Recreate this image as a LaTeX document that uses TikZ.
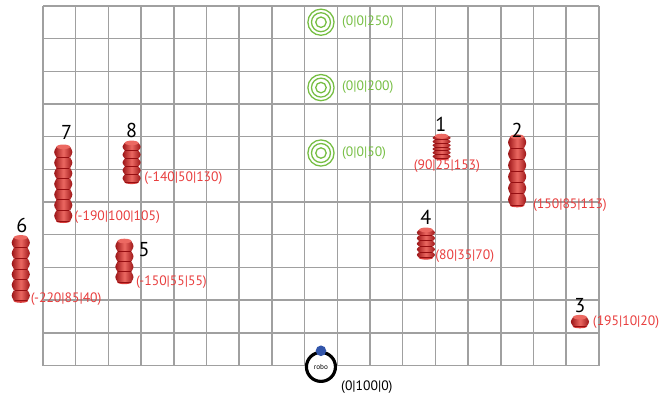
\documentclass[tikz,border=0pt]{standalone}
\usepackage{fontspec}
\setmainfont{PT Sans}
\usetikzlibrary{positioning}

\definecolor{gridgray}{RGB}{160,160,160}
\definecolor{goalgreen}{RGB}{118,190,67}
\definecolor{obsred}{RGB}{232,62,62}
\definecolor{pilldark}{RGB}{150,15,18}
\definecolor{pillred}{RGB}{215,60,58}
\definecolor{pilllight}{RGB}{236,105,98}
\definecolor{robblue}{RGB}{50,85,170}

% stacked obstacle: x, bottom, top, number of rings
\newcommand{\pillar}[4]{%
  \pgfmathsetmacro{\pseg}{(#3-#2)/#4}
  \fill[pillred] (#1,#2) ellipse (0.22 and 0.06);
  \foreach \k in {1,...,#4}{
    \pgfmathsetmacro{\pya}{#2+(\k-1)*\pseg}
    \pgfmathsetmacro{\pyb}{\pya+\pseg}
    \pgfmathsetmacro{\pym}{\pya+0.5*\pseg}
    \shade[left color=pilldark, right color=pilldark, middle color=pilllight]
      (#1-0.21,\pya) .. controls (#1-0.30,\pym) .. (#1-0.21,\pyb)
      -- (#1+0.21,\pyb) .. controls (#1+0.30,\pym) .. (#1+0.21,\pya) -- cycle;
    \draw[pilldark, line width=0.7pt] (#1-0.19,\pya) -- (#1+0.19,\pya);
  }
  \fill[pilllight] (#1,#3) ellipse (0.21 and 0.07);
}

\begin{document}
\begin{tikzpicture}
	[scale=0.8,
	num/.style={font=\fontsize{14}{14}\selectfont, inner sep=0pt},
	coordlabel/.style={text=obsred, font=\fontsize{9.5}{10}\selectfont, inner sep=0pt, anchor=west},
	goallabel/.style={coordlabel, text=goalgreen},
	ring/.style={draw=goalgreen, line width=0.9pt},
	robot/.style={shape=circle, draw=black, line width=2.2pt, fill=white, minimum size=0.71cm, inner sep=0pt, font=\fontsize{5}{5}\selectfont}]
	\useasboundingbox (-1.315,-1.043) rectangle (18.838,11.18);
	
	\draw[gridgray, line width=1pt] (0,0) grid (17,11);
	
	% targets
	\foreach \gy/\gz [count=\i] in {10.5/250, 8.5/200, 6.5/50} {
		\coordinate (goal\i) at (8.5,\gy);
		\foreach \r in {0.40,0.29,0.16}
			\draw[ring] (goal\i) circle (\r);
		\node[goallabel] (goallabel\i) at (9.14,\gy) {(0|0|\gz)};
	}
	
	% obstacles
	\pillar{12.19}{6.34}{7.02}{6}
	\pillar{14.5}{4.9}{7.0}{6}
	\pillar{16.42}{1.2}{1.48}{1}
	\pillar{11.71}{3.3}{4.15}{5}
	\pillar{2.49}{2.55}{3.81}{4}
	\pillar{-0.68}{1.98}{3.92}{6}
	\pillar{0.62}{4.42}{6.69}{7}
	\pillar{2.71}{5.61}{6.81}{5}
	
	\node [num] (n1) at (12.17,7.37) {1};
	\node [num] (n2) at (14.5,7.2) {2};
	\node [num] (n3) at (16.42,1.83) {3};
	\node [num] (n4) at (11.71,4.54) {4};
	\node [num] (n5) at (3.09,3.56) {5};
	\node [num] (n6) at (-0.65,4.29) {6};
	\node [num] (n7) at (0.72,7.12) {7};
	\node [num] (n8) at (2.71,7.2) {8};
	
	\node [coordlabel, anchor=center] (c1) at (12.35,6.09) {(90|25|153)};
	\node [coordlabel] (c2) at (14.98,4.91) {(150|85|113)};
	\node [coordlabel] (c3) at (16.81,1.34) {(195|10|20)};
	\node [coordlabel] (c4) at (11.99,3.36) {(80|35|70)};
	\node [coordlabel] (c5) at (2.84,2.56) {(-150|55|55)};
	\node [coordlabel] (c6) at (-0.38,2.04) {(-220|85|40)};
	\node [coordlabel] (c7) at (0.95,4.55) {(-190|100|105)};
	\node [coordlabel] (c8) at (3.09,5.72) {(-140|50|130)};
	
	% robot
	\node [robot] (robo) at (8.5,-0.04) {robo};
	\node [shape=circle, fill=robblue, minimum size=0.26cm, inner sep=0pt] (sensor) at (robo.north) {};
	\node [coordlabel, text=black] (robolabel) at (9.11,-0.65) {(0|100|0)};
	
\end{tikzpicture}
\end{document}
